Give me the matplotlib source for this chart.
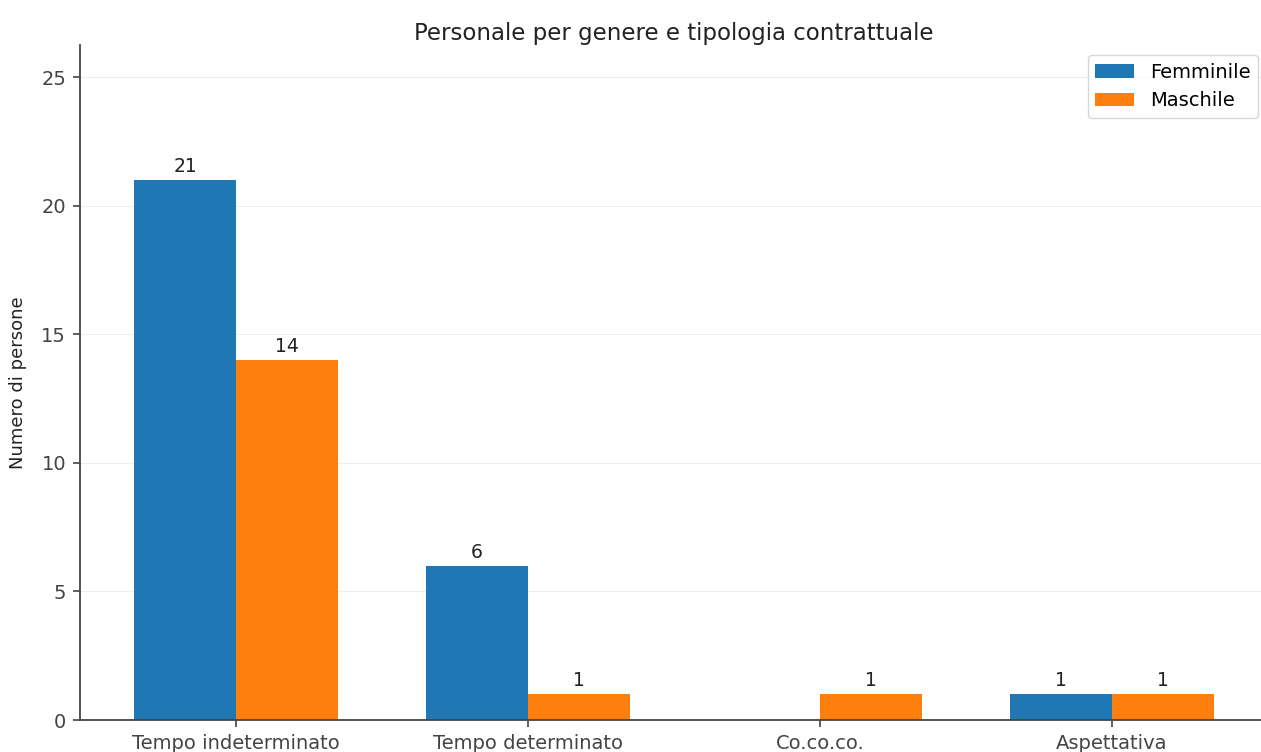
import numpy as np
import matplotlib
matplotlib.use('Agg')
import matplotlib.pyplot as plt

categories = ['Tempo indeterminato', 'Tempo determinato', 'Co.co.co.', 'Aspettativa']
femminile = [21, 6, 0, 1]
maschile = [14, 1, 1, 1]

WIDTH = 0.35

fig = plt.figure(figsize=(12.61, 7.52), dpi=100)
ax = fig.add_axes([80 / 1261, 32 / 752, 1188 / 1261, (752 - 32 - 45) / 752])

x = np.arange(len(categories))
bf = ax.bar(x - WIDTH / 2, femminile, WIDTH, label='Femminile', color='#1f77b4')
bm = ax.bar(x + WIDTH / 2, maschile, WIDTH, label='Maschile', color='#ff7f0e')

for bars in (bf, bm):
    for b in bars:
        h = b.get_height()
        if h > 0:
            ax.annotate('{}'.format(int(h)), (b.get_x() + b.get_width() / 2, h),
                        xytext=(0, 3), textcoords='offset points',
                        ha='center', va='bottom', fontsize=13.5, color='#222222')

ax.set_xticks(x)
ax.set_xticklabels(categories, fontsize=14, color='#222222')
ax.tick_params(axis='y', labelsize=14, labelcolor='#222222')
ax.tick_params(colors='#444444', width=1.2, length=5, pad=5)
ax.set_ylim(0, max(femminile + maschile) * 1.25)
ax.set_ylabel('Numero di persone', fontsize=13, color='#222222', labelpad=10)
ax.set_title('Personale per genere e tipologia contrattuale', fontsize=16.5, pad=3, color='#222222')
ax.yaxis.grid(True, color='#eeeeee', linewidth=0.8)
ax.set_axisbelow(True)
ax.spines['top'].set_visible(False)
ax.spines['right'].set_visible(False)
for s in ('left', 'bottom'):
    ax.spines[s].set_color('#444444')
    ax.spines[s].set_linewidth(1.3)
ax.legend(loc='upper right', fontsize=14)

fig.savefig('out.png', dpi=100)
